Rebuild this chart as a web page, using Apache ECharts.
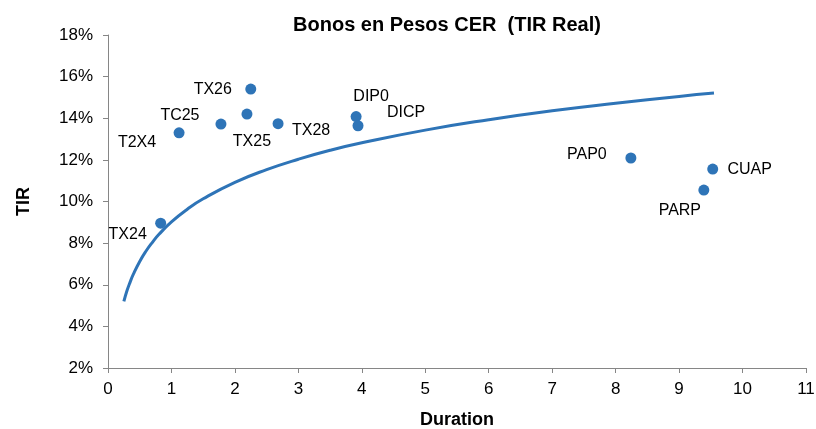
<!DOCTYPE html>
<html>
<head>
<meta charset="utf-8">
<script src="https://cdn.jsdelivr.net/npm/echarts@6/dist/echarts.min.js"></script>
<style>
  html, body { margin: 0; padding: 0; background: #fff; }
  #chart { width: 816px; height: 429px; }
</style>
</head>
<body>
<div id="chart"></div>
<script>
// bonds: name, duration (years), real IRR (%)
const bondNames = ["TX24", "T2X4", "TC25", "TX25", "TX26", "TX28", "DIP0", "DICP", "PAP0", "CUAP", "PARP"];
const bondDuration = [0.83, 1.12, 1.78, 2.19, 2.25, 2.68, 3.91, 3.94, 8.24, 9.53, 9.39];
const bondTir = [8.96, 13.3, 13.72, 14.2, 15.4, 13.74, 14.08, 13.64, 12.09, 11.56, 10.55];

// trend curve
const curveDuration = [0.25, 0.3, 0.35, 0.4, 0.5, 0.6, 0.7, 0.8, 1, 1.25, 1.5, 2, 2.5, 3, 3.5, 4, 5, 6, 7, 8, 9, 9.55];
const curveTir = [5.2, 5.72, 6.14, 6.51, 7.12, 7.62, 8.04, 8.41, 9.02, 9.63, 10.13, 10.92, 11.53, 12.03, 12.46, 12.82, 13.43, 13.93, 14.36, 14.72, 15.05, 15.21];

const xTicks = { min: 0, max: 11, step: 1 };
const yTicks = { min: 2, max: 18, step: 2 };

// where each label sits relative to its dot
const labelOffset = {
  TX24: [-33, 11], T2X4: [-42, 10], TC25: [-41, -8], TX25: [5, 28],
  TX26: [-38, 0], TX28: [33, 7], DIP0: [15, -20], DICP: [48, -13],
  PAP0: [-44, -3], CUAP: [37, 1], PARP: [-24, 21],
};

const blue = "#2e74b7";
const font = "Liberation Sans, Arial, sans-serif";

const chart = echarts.init(document.getElementById("chart"));

chart.setOption({
  animation: false,
  title: {
    text: "Bonos en Pesos CER  (TIR Real)",
    left: 442,
    top: 10,
    textAlign: "center",
    textStyle: { fontFamily: font, fontSize: 20, fontWeight: "bold", color: "#000" },
  },
  grid: { left: 108, right: 10, top: 35, bottom: 61, outerBoundsMode: "none" },
  xAxis: {
    type: "value",
    min: xTicks.min, max: xTicks.max, interval: xTicks.step,
    name: "Duration",
    nameLocation: "middle",
    nameGap: 43,
    nameTextStyle: { fontFamily: font, fontSize: 18, fontWeight: "bold", color: "#000" },
    axisLine: { lineStyle: { color: "#868686" } },
    axisTick: { show: true, length: 5, lineStyle: { color: "#868686" } },
    axisLabel: { fontFamily: font, fontSize: 17, color: "#000", margin: 13 },
    splitLine: { show: false },
  },
  yAxis: {
    type: "value",
    min: yTicks.min, max: yTicks.max, interval: yTicks.step,
    name: "TIR",
    nameLocation: "middle",
    nameGap: 75,
    nameTextStyle: { fontFamily: font, fontSize: 18, fontWeight: "bold", color: "#000" },
    axisLine: { show: true, lineStyle: { color: "#868686" } },
    axisTick: { show: true, length: 5, lineStyle: { color: "#868686" } },
    axisLabel: { fontFamily: font, fontSize: 17, color: "#000", margin: 15, formatter: "{value}%" },
    splitLine: { show: false },
  },
  series: [
    {
      type: "line",
      data: curveDuration.map((x, i) => [x, curveTir[i]]),
      smooth: true,
      showSymbol: false,
      lineStyle: { color: blue, width: 3 },
      z: 2,
    },
    {
      type: "scatter",
      symbolSize: 11,
      itemStyle: { color: blue, opacity: 1 },
      data: bondNames.map((name, i) => ({
        name,
        value: [bondDuration[i], bondTir[i]],
        label: { offset: labelOffset[name] },
      })),
      label: {
        show: true,
        position: "inside",
        formatter: "{b}",
        fontFamily: font,
        fontSize: 16,
        color: "#000",
      },
      z: 3,
    },
  ],
});
</script>
</body>
</html>
